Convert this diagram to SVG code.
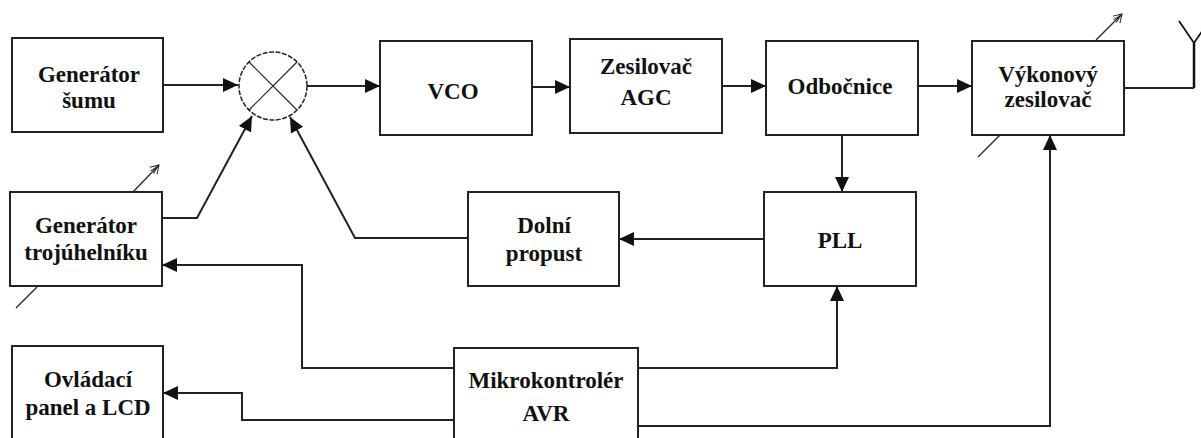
<svg xmlns="http://www.w3.org/2000/svg" width="1201" height="438" viewBox="0 0 1201 438">
<style>
.box{fill:#fff;stroke:#222;stroke-width:2}
.t{font-family:'Liberation Serif','Times New Roman','DejaVu Serif',serif;font-weight:700;font-size:23px;fill:#111;text-anchor:middle}
.c{fill:none;stroke:#222;stroke-width:2}
.thin{fill:none;stroke:#222;stroke-width:1.2}
</style>
<defs>
<marker id="ah" markerUnits="userSpaceOnUse" markerWidth="16" markerHeight="14" refX="15" refY="7" orient="auto">
<path d="M0,0 L15,7 L0,14 z" fill="#111"/>
</marker>
<marker id="oh" markerUnits="userSpaceOnUse" markerWidth="12" markerHeight="12" refX="10" refY="6" orient="auto">
<path d="M2,1 L10,6 L2,11 M0,4 L8,6 M0,8 L8,6" fill="none" stroke="#222" stroke-width="1"/>
</marker>
</defs>
<rect width="1201" height="438" fill="#fff"/>

<g id="connectors">
<path class="c" d="M163,85 L238,85" marker-end="url(#ah)"/>
<path class="c" d="M307,86 L380,86" marker-end="url(#ah)"/>
<path class="c" d="M532,87 L570,87" marker-end="url(#ah)"/>
<path class="c" d="M722,86 L766,86" marker-end="url(#ah)"/>
<path class="c" d="M918,86 L972,86" marker-end="url(#ah)"/>
<path class="c" d="M842,135 L842,192" marker-end="url(#ah)"/>
<path class="c" d="M764,239 L619,239" marker-end="url(#ah)"/>
<path class="c" d="M468,238 L355,238 L290,117" marker-end="url(#ah)"/>
<path class="c" d="M162,218 L197,218 L252,116" marker-end="url(#ah)"/>
<path class="c" d="M454,368 L302,368 L302,265 L162,265" marker-end="url(#ah)"/>
<path class="c" d="M454,420 L242,420 L242,393 L163,393" marker-end="url(#ah)"/>
<path class="c" d="M638,368 L837,368 L837,286" marker-end="url(#ah)"/>
<path class="c" d="M638,426 L1050,426 L1050,135" marker-end="url(#ah)"/>
<path class="c" d="M1124,88 L1194,88"/>
</g>

<g id="antenna">
<path d="M1194,88 L1194,43" fill="none" stroke="#111" stroke-width="2.5"/>
<path d="M1179,21 L1194,43 L1209,21" fill="none" stroke="#111" stroke-width="1.8"/>
</g>

<g id="mixer">
<circle cx="273" cy="86" r="34" fill="#fff" stroke="#222" stroke-width="1.5" stroke-dasharray="5 1.5"/>
<path class="thin" d="M249,62 L297,110 M297,62 L249,110"/>
</g>

<g id="gen-sumu">
<rect class="box" x="12" y="38" width="151" height="94"/>
<text class="t" x="89" y="82">Generátor</text>
<text class="t" x="89" y="108">šumu</text>
</g>

<g id="vco">
<rect class="box" x="380" y="41" width="152" height="94"/>
<text class="t" x="453" y="99">VCO</text>
</g>

<g id="agc">
<rect class="box" x="570" y="39" width="152" height="94"/>
<text class="t" x="646" y="74">Zesilovač</text>
<text class="t" x="646" y="105">AGC</text>
</g>

<g id="odbocnice">
<rect class="box" x="766" y="41" width="152" height="94"/>
<text class="t" x="840" y="94">Odbočnice</text>
</g>

<g id="vykonovy">
<rect class="box" x="972" y="41" width="152" height="94"/>
<text class="t" x="1048" y="82">Výkonový</text>
<text class="t" x="1048" y="107">zesilovač</text>
<path class="thin" d="M1096,40 L1122,14" marker-end="url(#oh)"/>
<path class="thin" d="M1000,135 L978,157"/>
</g>

<g id="gen-troj">
<rect class="box" x="10" y="192" width="152" height="94"/>
<text class="t" x="86" y="233">Generátor</text>
<text class="t" x="86" y="260">trojúhelníku</text>
<path class="thin" d="M133,192 L159,165" marker-end="url(#oh)"/>
<path class="thin" d="M37,287 L16,308"/>
</g>

<g id="dolni-propust">
<rect class="box" x="468" y="192" width="151" height="94"/>
<text class="t" x="544" y="233">Dolní</text>
<text class="t" x="544" y="261">propust</text>
</g>

<g id="pll">
<rect class="box" x="764" y="192" width="152" height="94"/>
<text class="t" x="840" y="248">PLL</text>
</g>

<g id="ovladaci">
<rect class="box" x="12" y="346" width="151" height="100"/>
<text class="t" x="88" y="387">Ovládací</text>
<text class="t" x="88" y="415">panel a LCD</text>
</g>

<g id="mikro">
<rect class="box" x="454" y="348" width="184" height="100"/>
<text class="t" x="546" y="388">Mikrokontrolér</text>
<text class="t" x="546" y="421">AVR</text>
</g>
</svg>
